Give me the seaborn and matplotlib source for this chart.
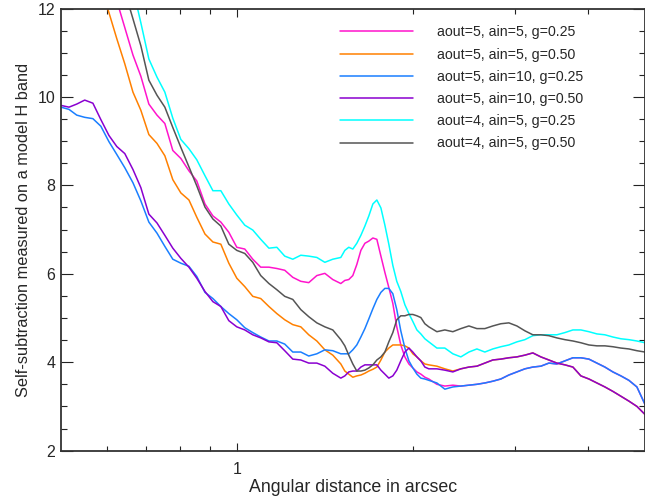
import numpy as np
import pandas as pd
import matplotlib
matplotlib.use("Agg")
import matplotlib.pyplot as plt
import seaborn as sns
from matplotlib.ticker import FixedLocator, FixedFormatter, NullFormatter, MultipleLocator

# angular separation grid (arcsec)
sep = [0.500, 0.516, 0.532, 0.549, 0.567, 0.585, 0.604, 0.623, 0.643, 0.664,
       0.685, 0.707, 0.730, 0.753, 0.777, 0.802, 0.828, 0.854, 0.882, 0.910,
       0.939, 0.969, 1.000, 1.032, 1.065, 1.099, 1.135, 1.171, 1.208, 1.247,
       1.287, 1.328, 1.371, 1.415, 1.460, 1.507, 1.531, 1.555, 1.580, 1.605,
       1.631, 1.657, 1.683, 1.710, 1.737, 1.765, 1.793, 1.821, 1.850, 1.879,
       1.909, 1.940, 1.971, 2.002, 2.034, 2.066, 2.099, 2.132, 2.201, 2.271,
       2.344, 2.419, 2.497, 2.577, 2.659, 2.744, 2.832, 2.923, 3.017, 3.114,
       3.213, 3.316, 3.423, 3.532, 3.646, 3.763, 3.883, 4.008, 4.136, 4.269,
       4.405, 4.547, 4.692, 4.843, 4.998]

# self-subtraction for each reduction setting (values above 12 are off the plot)
ss_o5_i5_g25 = [15.7, 15.3, 14.8, 14.2, 13.7, 13.2, 12.7,
                12.18, 11.57, 10.95, 10.47, 9.84, 9.59, 9.40, 8.79, 8.61, 8.33, 8.10, 7.58, 7.31, 7.17, 6.94,
                6.60, 6.56, 6.33, 6.15, 6.15, 6.12, 6.08, 5.92, 5.83, 5.80, 5.96, 6.01, 5.87, 5.78,
                5.85, 5.87, 5.96, 6.21, 6.53, 6.69, 6.74, 6.81, 6.78, 6.40, 6.03, 5.69, 5.33, 4.80, 4.39,
                4.12, 3.96, 3.87, 3.78, 3.73, 3.66, 3.62,
                3.50, 3.46, 3.48, 3.46, 3.48, 3.50, 3.53, 3.57, 3.62, 3.71, 3.78, 3.85, 3.89, 3.91,
                3.98, 3.96, 4.03, 4.10, 4.10, 4.07, 3.98, 3.89, 3.78, 3.69, 3.59, 3.44, 3.05]
ss_o5_i5_g50 = [15.5, 14.9, 14.3, 13.7, 13.1, 12.5, 11.91, 11.32, 10.75, 10.11, 9.70,
                9.15, 8.95, 8.67, 8.13, 7.83, 7.67, 7.28, 6.90, 6.72, 6.67, 6.24,
                5.90, 5.71, 5.49, 5.44, 5.26, 5.10, 4.96, 4.85, 4.80, 4.62, 4.48, 4.28, 4.16, 3.96,
                3.80, 3.73, 3.66, 3.69, 3.71, 3.75, 3.80, 3.84, 3.89, 4.05, 4.23, 4.32, 4.39, 4.39, 4.39,
                4.37, 4.32, 4.19, 4.12, 4.03, 3.96, 3.94,
                3.91, 3.85, 3.80, 3.85, 3.89, 3.91, 3.98, 4.05, 4.07, 4.10, 4.12, 4.16, 4.21, 4.12,
                4.05, 3.98, 3.94, 3.89, 3.69, 3.62, 3.53, 3.44, 3.34, 3.23, 3.12, 3.00, 2.82]
ss_o5_i10_g25 = [9.77, 9.72, 9.59, 9.54, 9.51, 9.34, 8.99, 8.70, 8.40, 8.06, 7.65,
                 7.17, 6.92, 6.62, 6.33, 6.24, 6.17, 5.94, 5.58, 5.44, 5.26, 5.10,
                 4.96, 4.78, 4.67, 4.57, 4.48, 4.48, 4.41, 4.23, 4.23, 4.14, 4.19, 4.28, 4.26, 4.19,
                 4.19, 4.19, 4.28, 4.39, 4.57, 4.76, 4.98, 5.21, 5.42, 5.58, 5.67, 5.67, 5.55, 5.19, 4.71,
                 4.32, 4.03, 3.87, 3.73, 3.64, 3.62, 3.59,
                 3.53, 3.39, 3.44, 3.46, 3.48, 3.50, 3.53, 3.57, 3.62, 3.71, 3.78, 3.85, 3.89, 3.91,
                 3.98, 3.96, 4.03, 4.10, 4.10, 4.07, 3.98, 3.89, 3.78, 3.69, 3.59, 3.44, 3.05]
ss_o5_i10_g50 = [9.81, 9.77, 9.84, 9.93, 9.86, 9.49, 9.13, 8.88, 8.72, 8.36, 7.95,
                 7.35, 7.15, 6.87, 6.58, 6.35, 6.15, 5.90, 5.60, 5.37, 5.26, 4.94,
                 4.80, 4.73, 4.62, 4.55, 4.46, 4.44, 4.26, 4.07, 4.05, 3.98, 3.98, 3.91, 3.75, 3.64,
                 3.69, 3.78, 3.80, 3.80, 3.89, 3.94, 3.94, 3.94, 3.94, 3.82, 3.73, 3.64, 3.69, 3.82, 4.03,
                 4.23, 4.32, 4.23, 4.12, 4.03, 3.89, 3.85,
                 3.85, 3.82, 3.78, 3.85, 3.89, 3.91, 3.98, 4.05, 4.07, 4.10, 4.12, 4.16, 4.21, 4.12,
                 4.05, 3.98, 3.94, 3.89, 3.69, 3.62, 3.53, 3.44, 3.34, 3.23, 3.12, 3.00, 2.82]
ss_o4_i5_g25 = [19.0, 18.3, 17.6, 16.8, 16.0, 15.2, 14.4, 13.7, 13.1, 12.45, 11.68,
                10.86, 10.45, 10.11, 9.52, 9.04, 8.83, 8.58, 8.22, 7.88, 7.88, 7.58,
                7.33, 7.10, 6.99, 6.78, 6.58, 6.60, 6.40, 6.33, 6.42, 6.40, 6.37, 6.26, 6.33, 6.37,
                6.53, 6.60, 6.56, 6.69, 6.87, 7.08, 7.31, 7.58, 7.67, 7.49, 7.10, 6.67, 6.19, 5.83, 5.60,
                5.30, 5.10, 4.92, 4.73, 4.64, 4.53, 4.46,
                4.32, 4.32, 4.19, 4.12, 4.23, 4.30, 4.23, 4.30, 4.35, 4.39, 4.46, 4.51, 4.60, 4.62,
                4.62, 4.62, 4.67, 4.73, 4.73, 4.69, 4.64, 4.62, 4.57, 4.53, 4.51, 4.48, 4.44]
ss_o4_i5_g50 = [17.4, 16.8, 16.2, 15.5, 14.9, 14.3, 13.6, 13.0, 12.39, 11.77, 11.16,
                10.38, 10.04, 9.77, 9.31, 8.86, 8.42, 7.99, 7.51, 7.24, 7.08, 6.67,
                6.53, 6.46, 6.26, 5.96, 5.78, 5.64, 5.49, 5.42, 5.19, 5.03, 4.89, 4.80, 4.73, 4.51,
                4.37, 4.16, 3.96, 3.80, 3.80, 3.82, 3.87, 3.94, 4.05, 4.12, 4.23, 4.46, 4.67, 4.96, 5.05,
                5.05, 5.08, 5.08, 5.05, 5.01, 4.87, 4.80,
                4.69, 4.73, 4.69, 4.76, 4.82, 4.76, 4.76, 4.82, 4.87, 4.89, 4.82, 4.71, 4.62, 4.62,
                4.60, 4.55, 4.51, 4.48, 4.44, 4.39, 4.37, 4.37, 4.35, 4.32, 4.30, 4.26, 4.23]

labels = ["aout=5, ain=5, g=0.25", "aout=5, ain=5, g=0.50",
          "aout=5, ain=10, g=0.25", "aout=5, ain=10, g=0.50",
          "aout=4, ain=5, g=0.25", "aout=4, ain=5, g=0.50"]
colors = ["#ff14cc", "#ff8000", "#1a7fff", "#8a00d0", "#00ffff", "#555555"]
series = [ss_o5_i5_g25, ss_o5_i5_g50, ss_o5_i10_g25, ss_o5_i10_g50, ss_o4_i5_g25, ss_o4_i5_g50]

frames = []
for lab, vals in zip(labels, series):
    frames.append(pd.DataFrame({"sep": sep, "ss": vals, "model": lab}))
df = pd.concat(frames, ignore_index=True)

sns.set_style("ticks")
plt.rcParams["font.family"] = ["Liberation Sans", "DejaVu Sans"]

fig = plt.figure(figsize=(6.45, 4.97), dpi=100)
ax = fig.add_axes([61/645, 46.4/497, 584/645, 442/497])

sns.lineplot(data=df, x="sep", y="ss", hue="model", hue_order=labels,
             palette=dict(zip(labels, colors)), estimator=None, sort=False,
             linewidth=1.1, ax=ax)

ax.set_xscale("log")
ax.set_xlim(0.5, 5.0)
ax.set_ylim(2, 12)

ax.xaxis.set_major_locator(FixedLocator([1]))
ax.xaxis.set_major_formatter(FixedFormatter(["1"]))
ax.xaxis.set_minor_locator(FixedLocator([0.6, 0.7, 0.8, 0.9, 2, 3, 4]))
ax.xaxis.set_minor_formatter(NullFormatter())
ax.yaxis.set_major_locator(MultipleLocator(2))
ax.yaxis.set_minor_locator(MultipleLocator(0.5))

ax.tick_params(which="both", direction="in", top=True, right=True, width=0.8, color="#222222")
ax.tick_params(axis="y", which="major", length=8.5, pad=4, labelsize=11.5)
ax.tick_params(axis="y", which="minor", length=4.3)
ax.tick_params(axis="x", which="major", length=6, pad=8.5, labelsize=11.5)
ax.tick_params(axis="x", which="minor", length=3.8)
for s in ax.spines.values():
    s.set_linewidth(1.3)
    s.set_color("#333333")

ax.set_xlabel("Angular distance in arcsec", fontsize=12.8, labelpad=1)
ax.set_ylabel("Self-subtraction measured on a model H band", fontsize=11.8, labelpad=5)

ax.legend(loc="upper left", bbox_to_anchor=(0.478, 0.962), frameon=False,
          fontsize=10.2, handlelength=5.15, handletextpad=1.69, labelspacing=0.58,
          borderpad=0, borderaxespad=0)

fig.savefig("out.png", dpi=100)
